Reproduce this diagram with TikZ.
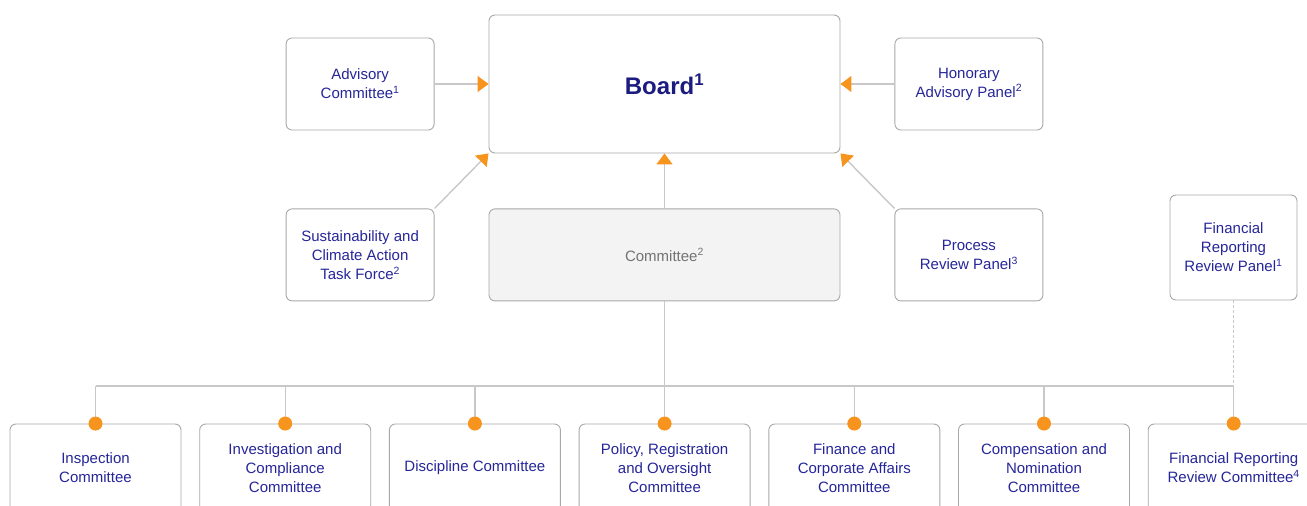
\documentclass[tikz,border=0pt]{standalone}
\usepackage{fontspec}
\setmainfont{Liberation Sans}
\usetikzlibrary{positioning,arrows.meta}
\definecolor{navy}{HTML}{26269A}
\definecolor{boardblue}{HTML}{1C1C80}
\definecolor{linegray}{HTML}{C8C8C8}
\definecolor{boxgray}{HTML}{A8A8A8}
\definecolor{fillgray}{HTML}{F3F3F3}
\definecolor{dotorange}{HTML}{F7941D}
\tikzset{
  org/.style={x=1pt,y=-1pt,font=\fontsize{15}{19}\selectfont,node distance=54pt},
  unit/.style={draw=boxgray,line width=0.9pt,rounded corners=6pt,fill=white,text=navy,
    align=center,inner sep=2pt,minimum width=148pt,minimum height=92pt},
  member/.style={unit,minimum width=171pt,minimum height=88pt},
  wire/.style={draw=linegray,line width=1.4pt},
  feeds/.style={wire,-{Triangle[length=11pt,width=16pt,color=dotorange]}},
}

\begin{document}
\begin{tikzpicture}[org]
  \useasboundingbox (0,0) rectangle (1307,506);
  \clip (0,0) rectangle (1307,506);
  % top tier
  \node[unit,minimum width=351pt,minimum height=138pt,text=boardblue,text depth=0pt,
    font=\fontsize{24}{28}\selectfont\bfseries] (board) at (664.5,84) {Board\textsuperscript{1}};
  \node[unit] (advisory) [left=of board] {Advisory\\Committee\textsuperscript{1}};
  \node[unit] (honorary) [right=of board] {Honorary\\Advisory Panel\textsuperscript{2}};
  \node[unit,minimum width=351pt,fill=fillgray,text=black!55] (committee) [below=55pt of board] {Committee\textsuperscript{2}};
  \node[unit] (taskforce) [left=of committee] {Sustainability and\\Climate Action\\Task Force\textsuperscript{2}};
  \node[unit] (review) [right=of committee] {Process\\Review Panel\textsuperscript{3}};
  \node[unit,minimum width=127pt,minimum height=105pt] (frpanel) at (1233.5,247.5) {Financial\\Reporting\\Review Panel\textsuperscript{1}};
  % standing committees
  \node[member] (insp) at (95.5,468) {Inspection\\Committee};
  \node[member] (invest) [right=17.8pt of insp] {Investigation and\\Compliance\\Committee};
  \node[member] (disc) [right=17.8pt of invest] {Discipline Committee};
  \node[member] (policy) [right=17.8pt of disc] {Policy, Registration\\and Oversight\\Committee};
  \node[member] (fin) [right=17.8pt of policy] {Finance and\\Corporate Affairs\\Committee};
  \node[member] (comp) [right=17.8pt of fin] {Compensation and\\Nomination\\Committee};
  \node[member] (frc) [right=17.8pt of comp] {Financial Reporting\\Review Committee\textsuperscript{4}};
  % reporting lines
  \draw[feeds] (advisory) -- (board);
  \draw[feeds] (honorary) -- (board);
  \draw[feeds] (committee) -- (board);
  \draw[feeds] (taskforce.north east) -- (board.south west);
  \draw[feeds] (review.north west) -- (board.south east);
  \coordinate (bus) at (0,386);
  \draw[wire] (committee.south) -- (committee.south |- bus);
  \draw[wire] (insp.north |- bus) -- (frc.north |- bus);
  \draw[draw=linegray,line width=0.9pt,dash pattern=on 3pt off 2pt] (frpanel.south) -- (frpanel.south |- bus);
  \foreach \n in {insp,invest,disc,policy,fin,comp,frc} {
    \draw[wire] (\n.north |- bus) -- (\n.north);
    \fill[dotorange] (\n.north) circle (7pt);
  }
\end{tikzpicture}
\end{document}
